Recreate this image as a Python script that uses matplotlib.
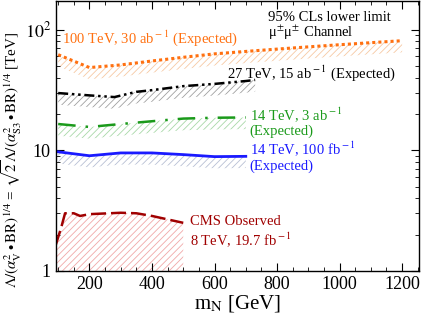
import matplotlib
matplotlib.use("Agg")
import matplotlib.pyplot as plt
from matplotlib.ticker import MultipleLocator, LogLocator, FixedLocator, FuncFormatter
import numpy as np

plt.rcParams["font.family"] = ["Liberation Serif", "DejaVu Serif"]
plt.rcParams["mathtext.fontset"] = "stix"
plt.rcParams["hatch.linewidth"] = 0.6

# 100 TeV, 30 ab-1
m_100 = [100, 200, 300, 400, 500, 600, 700, 800, 900, 1000, 1100, 1200]
lim_100 = [62, 48.5, 51, 55, 59, 63, 66, 69, 72, 75, 78, 81]
# 27 TeV, 15 ab-1
m_27 = [100, 200, 280, 350, 400, 500, 600, 700, 730]
lim_27 = [29.8, 28.5, 27.6, 30.5, 31.5, 34, 35.5, 37.5, 38.3]
# 14 TeV, 3 ab-1
m_14a = [100, 200, 300, 400, 500, 600, 700]
lim_14a = [16.5, 15.6, 16.5, 17.4, 18.3, 18.6, 18.7]
# 14 TeV, 100 fb-1
m_14b = [100, 200, 300, 400, 500, 600, 700]
lim_14b = [9.7, 9.0, 9.5, 9.5, 9.2, 8.85, 8.9]
# CMS observed 8 TeV
m_cms = [92, 110, 122, 150, 170, 200, 300, 350, 400, 500]
lim_cms = [1.63, 2.3, 3.0, 3.0, 2.85, 2.95, 3.03, 3.0, 2.85, 2.5]

band = 0.8

fig = plt.figure(figsize=(4.25, 3.22), dpi=100)
ax = fig.add_axes([0.131, 0.159, 0.8556, 0.838])

def expected(m, v, col, hcol, ls, lw):
    v = np.array(v)
    ax.fill_between(m, v * band, v, facecolor="none", edgecolor=hcol,
                    hatch="/////", linewidth=0)
    ax.plot(m, v, color=col, ls=ls, lw=lw)

expected(m_100, lim_100, "#ff7010", "#f6c9a4", (0, (1, 1)), 2.2)
expected(m_27, lim_27, "black", "#a0a0a0", (0, (4, 1.5, 1, 1.5, 1, 1.5)), 1.8)
expected(m_14a, lim_14a, "#1a9a1a", "#a8d8a8", (0, (7, 4, 1, 4)), 1.8)
expected(m_14b, lim_14b, "#1a1aff", "#b8c0d4", "-", 2.0)

ax.fill_between(m_cms, 1, lim_cms, facecolor="none", edgecolor="#f0a8a8",
                hatch="/////", linewidth=0)
ax.plot(m_cms, lim_cms, color="#a00000", ls=(0, (6, 2)), lw=1.8)

ax.set_yscale("log")
ax.set_xlim(92, 1255)
ax.set_ylim(1, 173)

ax.xaxis.set_major_locator(MultipleLocator(200))
ax.xaxis.set_minor_locator(MultipleLocator(50))
ax.yaxis.set_major_locator(FixedLocator([1, 10, 100]))
ax.yaxis.set_minor_locator(LogLocator(base=10, subs=np.arange(2, 10)))
ax.yaxis.set_minor_formatter(FuncFormatter(lambda v, p: ""))
ax.yaxis.set_major_formatter(FuncFormatter(
    lambda v, p: {1: "1", 10: "10", 100: "$10^2$"}.get(int(round(v)), "")))

ax.tick_params(which="both", direction="in", top=True, right=True, labelsize=13)
ax.tick_params(which="major", length=6, width=0.8)
ax.tick_params(which="minor", length=3, width=0.6)
for s in ax.spines.values():
    s.set_linewidth(1.0)

ax.set_xlabel(r"m$_{\rm N}$ [GeV]", fontsize=15, labelpad=0)
ax.set_ylabel(r"$\Lambda/(\alpha_{\rm V}^2\bullet{\rm BR})^{1/4}$ = "
              r"$\sqrt{2}\Lambda/(\alpha_{\rm S3}^2\bullet{\rm BR})^{1/4}$ [TeV]",
              fontsize=10.8)
ax.yaxis.set_label_coords(-0.088, 0.41)

fs = 10.5
ax.text(113, 85, r"100 TeV, 30 ab$^{\rm -1}$ (Expected)", color="#ff7010",
        fontsize=fs, va="center")
ax.text(770, 125, "95% CLs lower limit", color="black", fontsize=fs, va="center")
ax.text(770, 94, "μ$^{\\pm}$μ$^{\\pm}$ Channel", color="black", fontsize=fs, va="center")
ax.text(640, 43.7, r"27 TeV, 15 ab$^{\rm -1}$ (Expected)", color="black",
        fontsize=fs, va="center")
ax.text(713, 19.6, r"14 TeV, 3 ab$^{\rm -1}$", color="#1a9a1a", fontsize=fs, va="center")
ax.text(713, 14.4, "(Expected)", color="#1a9a1a", fontsize=fs, va="center")
ax.text(713, 10.4, r"14 TeV, 100 fb$^{\rm -1}$", color="#1a1aff", fontsize=fs, va="center")
ax.text(713, 7.4, "(Expected)", color="#1a1aff", fontsize=fs, va="center")
ax.text(522, 2.58, "CMS Observed", color="#a00000", fontsize=fs, va="center")
ax.text(522, 1.83, r"8 TeV, 19.7 fb$^{\rm -1}$", color="#a00000", fontsize=fs, va="center")

fig.savefig("out.png", dpi=100)
